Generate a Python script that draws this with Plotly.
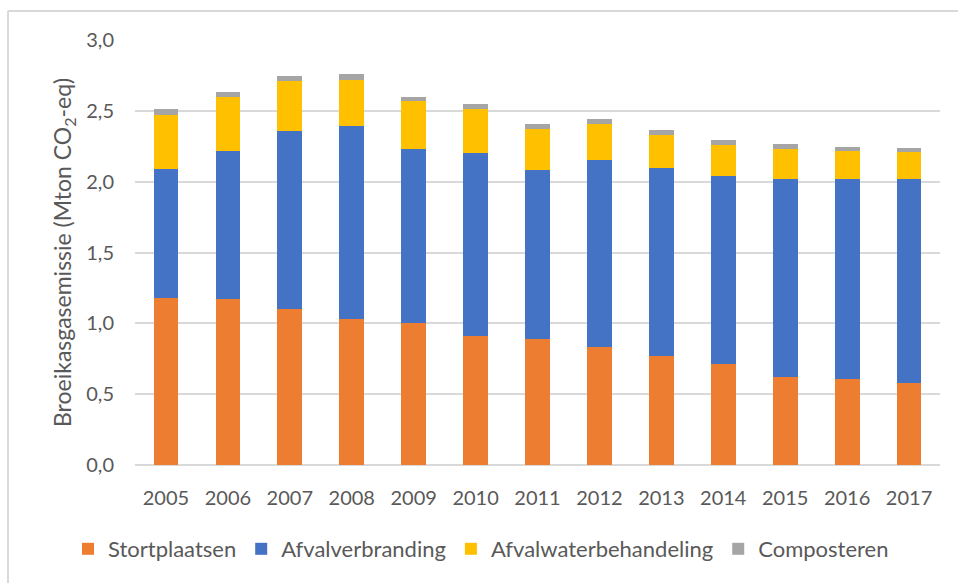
import plotly.graph_objects as go

years = ["2005", "2006", "2007", "2008", "2009", "2010", "2011",
         "2012", "2013", "2014", "2015", "2016", "2017"]
stortplaatsen = [1.18, 1.17, 1.10, 1.03, 1.00, 0.91, 0.89, 0.83, 0.77, 0.71, 0.62, 0.61, 0.58]
afvalverbranding = [0.91, 1.05, 1.26, 1.36, 1.23, 1.29, 1.19, 1.32, 1.33, 1.33, 1.40, 1.41, 1.44]
afvalwater = [0.38, 0.38, 0.35, 0.33, 0.34, 0.31, 0.29, 0.26, 0.23, 0.22, 0.21, 0.20, 0.19]
composteren = [0.04, 0.035, 0.038, 0.037, 0.028, 0.035, 0.037, 0.033, 0.035, 0.037, 0.036, 0.026, 0.026]
y_ticks = [0, 0.5, 1.0, 1.5, 2.0, 2.5, 3.0]
y_tick_labels = ["0,0", "0,5", "1,0", "1,5", "2,0", "2,5", "3,0"]

series = [
    ("Stortplaatsen", stortplaatsen, "#ED7D31"),
    ("Afvalverbranding", afvalverbranding, "#4472C4"),
    ("Afvalwaterbehandeling", afvalwater, "#FFC000"),
    ("Composteren", composteren, "#A5A5A5"),
]

FONT = "Lato, 'Open Sans', sans-serif"
TXT = "#595959"
FRAME = "#D9D9D9"

W, H = 958, 583
L, R, T, B = 135, 18, 40, 118
PW, PH = W - L - R, H - T - B


def px(x):
    return (x - L) / PW


def py(y):
    return (H - B - y) / PH


fig = go.Figure()
for name, vals, col in series:
    fig.add_trace(go.Bar(x=years, y=vals, name=name, marker=dict(color=col, line=dict(width=0))))

fig.update_layout(
    width=W, height=H,
    barmode="stack", bargap=0.6,
    paper_bgcolor="white", plot_bgcolor="white",
    margin=dict(l=L, r=R, t=T, b=B),
    font=dict(family=FONT, size=20, color=TXT),
    showlegend=True,
    legend=dict(orientation="h", x=px(68), xanchor="left", y=py(549), yanchor="middle",
                traceorder="normal", font=dict(size=22, color=TXT)),
    xaxis=dict(showgrid=False, showline=False, ticks="", tickfont=dict(size=20, color=TXT),
               ticklabelstandoff=19),
    yaxis=dict(range=[0, 3.0], tickvals=y_ticks, ticktext=y_tick_labels,
               showgrid=True, gridcolor=FRAME, gridwidth=2,
               zeroline=True, zerolinecolor=FRAME, zerolinewidth=2,
               showline=False, ticks="", tickfont=dict(size=20, color=TXT),
               ticklabelstandoff=20,
               title=dict(text="Broeikasgasemissie (Mton CO<sub>2</sub>-eq)",
                          font=dict(size=23, color=TXT), standoff=8)),
)

# outer chart frame: only its left and top edges fall inside the picture
fig.add_shape(type="line", xref="paper", yref="paper",
              x0=px(8), x1=px(8), y0=py(H), y1=py(11),
              line=dict(color=FRAME, width=2), layer="below")
fig.add_shape(type="line", xref="paper", yref="paper",
              x0=px(8), x1=px(W), y0=py(11), y1=py(11),
              line=dict(color=FRAME, width=2), layer="below")

fig.write_html("out.html", config={"displayModeBar": False},
               post_script="document.body.style.margin='0';")
